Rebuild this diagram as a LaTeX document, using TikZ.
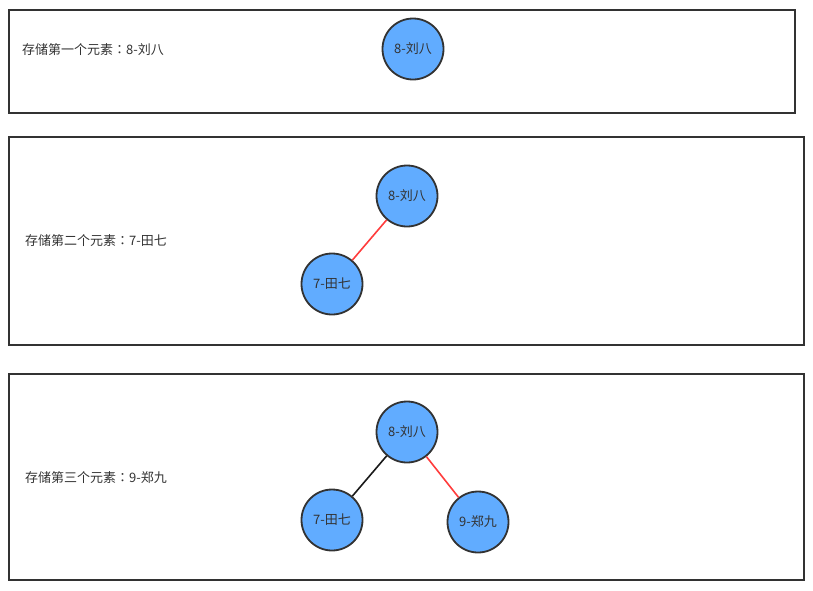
\documentclass[tikz,border=0pt]{standalone}
\usepackage{fontspec}
\setmainfont{Noto Sans CJK SC}
\newfontfamily\colonfont{Noto Sans CJK JP}
\newcommand{\midcolon}{{\colonfont ：}}
\definecolor{nodeblue}{RGB}{97,172,255}
\definecolor{edgered}{RGB}{255,60,60}
\definecolor{framegray}{RGB}{50,50,50}
\begin{document}
\begin{tikzpicture}[x=1pt,y=-1pt,
    frame/.style={draw=framegray,line width=1.8pt},
    elem/.style={circle,draw=framegray,fill=nodeblue,line width=1.8pt,minimum size=61pt,inner sep=0pt,font=\fontsize{13}{13}\selectfont,text=black!80},
    caption/.style={anchor=west,inner sep=0pt,font=\fontsize{13}{13}\selectfont,text=black!80},
    redlink/.style={edgered,line width=1.6pt},
    blacklink/.style={black!90,line width=1.6pt}]
    \useasboundingbox (0,0) rectangle (813,590);
    % three frames
    \draw[frame] (9,10) rectangle (795,113);
    \draw[frame] (9,137) rectangle (804,345);
    \draw[frame] (9,374) rectangle (804,580);
    % first element
    \node[caption] (capa) at (22,50) {存储第一个元素\midcolon 8-刘八};
    \node[elem] (a8) at (413,49) {8-刘八};
    % second element
    \node[caption] (capb) at (25,241) {存储第二个元素\midcolon 7-田七};
    \node[elem] (b8) at (407,196) {8-刘八};
    \node[elem] (b7) at (332,284) {7-田七};
    \draw[redlink] (b8) -- (b7);
    % third element
    \node[caption] (capc) at (25,478) {存储第三个元素\midcolon 9-郑九};
    \node[elem] (c8) at (407,432) {8-刘八};
    \node[elem] (c7) at (332,520) {7-田七};
    \node[elem] (c9) at (478,522) {9-郑九};
    \draw[blacklink] (c8) -- (c7);
    \draw[redlink] (c8) -- (c9);
\end{tikzpicture}
\end{document}
